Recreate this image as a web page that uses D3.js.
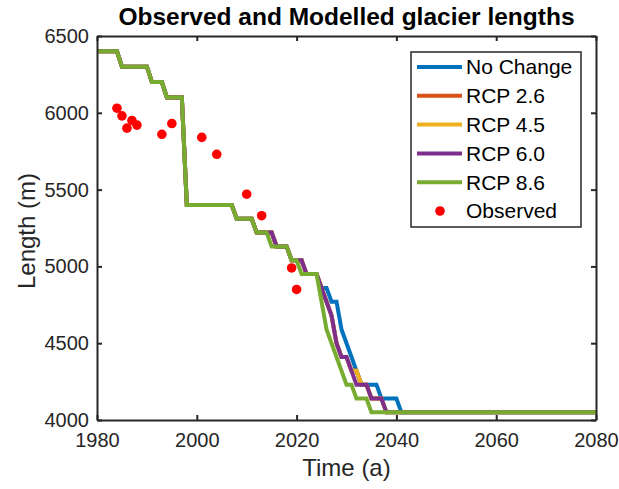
<!DOCTYPE html>
<html><head><meta charset="utf-8">
<script src="https://cdn.jsdelivr.net/npm/d3@7"></script>
<style>body{margin:0;background:#fff}svg{display:block}</style>
</head><body>
<svg id="c" width="619" height="489"></svg>
<script>
const xTicks = [1980, 2000, 2020, 2040, 2060, 2080];
const yTicks = [4000, 4500, 5000, 5500, 6000, 6500];

// modelled history shared by all scenarios
const historyYears   = [1980, 1984, 1985, 1990, 1991, 1993, 1994, 1997, 1998, 2007, 2008, 2011, 2012, 2014];
const historyLengths = [6400, 6400, 6300, 6300, 6200, 6200, 6100, 6100, 5400, 5400, 5310, 5310, 5220, 5220];

const noChangeYears   = [2015, 2016, 2018, 2019, 2021, 2022, 2024, 2025, 2026, 2027, 2028, 2029, 2030, 2031, 2032, 2033, 2036, 2037, 2040, 2041, 2080];
const noChangeLengths = [5220, 5130, 5130, 5040, 5040, 4950, 4950, 4860, 4860, 4770, 4770, 4590, 4500, 4410, 4320, 4230, 4230, 4140, 4140, 4050, 4050];

const rcp26Years   = [2015, 2016, 2018, 2019, 2021, 2022, 2024, 2025, 2026, 2027, 2028, 2029, 2030, 2031, 2032, 2033, 2034, 2035, 2037, 2038, 2080];
const rcp26Lengths = [5220, 5130, 5130, 5040, 5040, 4950, 4950, 4860, 4770, 4680, 4500, 4410, 4410, 4320, 4320, 4230, 4230, 4140, 4140, 4050, 4050];

const rcp45Years   = [2015, 2016, 2018, 2019, 2021, 2022, 2024, 2025, 2026, 2027, 2028, 2029, 2030, 2031, 2032, 2033, 2034, 2035, 2037, 2038, 2080];
const rcp45Lengths = [5220, 5130, 5130, 5040, 5040, 4950, 4950, 4860, 4770, 4680, 4500, 4410, 4410, 4320, 4320, 4230, 4230, 4140, 4140, 4050, 4050];

const rcp60Years   = [2015, 2016, 2018, 2019, 2021, 2022, 2024, 2025, 2026, 2027, 2028, 2029, 2030, 2031, 2032, 2034, 2035, 2037, 2038, 2080];
const rcp60Lengths = [5220, 5130, 5130, 5040, 5040, 4950, 4950, 4860, 4770, 4680, 4500, 4410, 4410, 4320, 4230, 4230, 4140, 4140, 4050, 4050];

const rcp86Years   = [2015, 2018, 2019, 2020, 2021, 2024, 2025, 2026, 2027, 2028, 2029, 2030, 2031, 2032, 2034, 2035, 2080];
const rcp86Lengths = [5130, 5130, 5040, 5040, 4950, 4950, 4770, 4590, 4500, 4410, 4320, 4230, 4230, 4140, 4140, 4050, 4050];

const obsYears   = [1984, 1985, 1986, 1987, 1988, 1993, 1995, 2001, 2004, 2010, 2013, 2019, 2020];
const obsLengths = [6030, 5980, 5900, 5950, 5920, 5860, 5930, 5840, 5730, 5470, 5330, 4990, 4850];

const seriesNames  = ["No Change", "RCP 2.6", "RCP 4.5", "RCP 6.0", "RCP 8.6"];
const seriesColors = ["#0072BD", "#D95319", "#EDB120", "#7E2F8E", "#77AC30"];
const seriesYears   = [noChangeYears, rcp26Years, rcp45Years, rcp60Years, rcp86Years];
const seriesLengths = [noChangeLengths, rcp26Lengths, rcp45Lengths, rcp60Lengths, rcp86Lengths];

const L = 97, R = 596, T = 36, B = 420;
const ink = "#262626";
const font = "'Liberation Sans', Arial, Helvetica, sans-serif";

const svg = d3.select("#c");
const x = d3.scaleLinear().domain([1980, 2080]).range([L, R]);
const y = d3.scaleLinear().domain([4000, 6500]).range([B, T]);

const plot = svg.append("g");
plot.append("defs").append("clipPath").attr("id", "clip")
  .append("rect").attr("x", L).attr("y", T).attr("width", R - L).attr("height", B - T);

const line = d3.line().x(d => x(d[0])).y(d => y(d[1]));
const lines = plot.append("g").attr("clip-path", "url(#clip)");
seriesNames.forEach((name, i) => {
  const pts = historyYears.map((yr, k) => [yr, historyLengths[k]])
    .concat(seriesYears[i].map((yr, k) => [yr, seriesLengths[i][k]]));
  lines.append("path").datum(pts)
    .attr("d", line)
    .attr("fill", "none")
    .attr("stroke", seriesColors[i])
    .attr("stroke-width", 4)
    .attr("stroke-linejoin", "miter");
});

const obs = obsYears.map((yr, k) => [yr, obsLengths[k]]);
plot.append("g").selectAll("circle").data(obs).join("circle")
  .attr("cx", d => x(d[0])).attr("cy", d => y(d[1])).attr("r", 4.8)
  .attr("fill", "#FF0000");

// axes box with inward ticks
const ax = svg.append("g");
const tl = 5;
const xAxisB = d3.axisBottom(x).tickValues(xTicks).tickSizeInner(-tl).tickSizeOuter(0).tickPadding(13).tickFormat(d3.format("d"));
const xAxisT = d3.axisTop(x).tickValues(xTicks).tickSizeInner(-tl).tickSizeOuter(0).tickFormat("");
const yAxisL = d3.axisLeft(y).tickValues(yTicks).tickSizeInner(-tl).tickSizeOuter(0).tickPadding(8).tickFormat(d3.format("d"));
const yAxisR = d3.axisRight(y).tickValues(yTicks).tickSizeInner(-tl).tickSizeOuter(0).tickFormat("");

function style(g) {
  g.select(".domain").attr("stroke", ink).attr("stroke-width", 2);
  g.selectAll(".tick line").attr("stroke", ink).attr("stroke-width", 2);
  g.selectAll(".tick text").attr("fill", ink).style("font-family", font).style("font-size", "20px");
}
ax.append("g").attr("transform", `translate(0,${B})`).call(xAxisB).call(style);
ax.append("g").attr("transform", `translate(0,${T})`).call(xAxisT).call(style);
ax.append("g").attr("transform", `translate(${L},0)`).call(yAxisL).call(style);
ax.append("g").attr("transform", `translate(${R},0)`).call(yAxisR).call(style);

// title & labels
svg.append("text").attr("x", (L + R) / 2).attr("y", 25).attr("text-anchor", "middle")
  .style("font-family", font).style("font-size", "24.5px").style("font-weight", "bold").attr("fill", "#000")
  .text("Observed and Modelled glacier lengths");
svg.append("text").attr("x", (L + R) / 2).attr("y", 476).attr("text-anchor", "middle")
  .style("font-family", font).style("font-size", "24px").attr("fill", ink).text("Time (a)");
svg.append("text").attr("transform", `translate(35,${(T + B) / 2 + 3}) rotate(-90)`).attr("text-anchor", "middle")
  .style("font-family", font).style("font-size", "24px").attr("fill", ink).text("Length (m)");

// legend
const lg = svg.append("g");
lg.append("rect").attr("x", 411).attr("y", 52).attr("width", 170).attr("height", 175)
  .attr("fill", "#fff").attr("stroke", ink).attr("stroke-width", 1.5);
const rowY = d => 67 + d * 28.8;
seriesNames.forEach((name, i) => {
  lg.append("line").attr("x1", 417).attr("x2", 462).attr("y1", rowY(i)).attr("y2", rowY(i))
    .attr("stroke", seriesColors[i]).attr("stroke-width", 4);
  lg.append("text").attr("x", 466).attr("y", rowY(i)).attr("dy", "0.35em")
    .style("font-family", font).style("font-size", "21px").attr("fill", "#000").text(name);
});
lg.append("circle").attr("cx", 440).attr("cy", rowY(5)).attr("r", 4.8).attr("fill", "#FF0000");
lg.append("text").attr("x", 466).attr("y", rowY(5)).attr("dy", "0.35em")
  .style("font-family", font).style("font-size", "21px").attr("fill", "#000").text("Observed");
</script>
</body></html>
